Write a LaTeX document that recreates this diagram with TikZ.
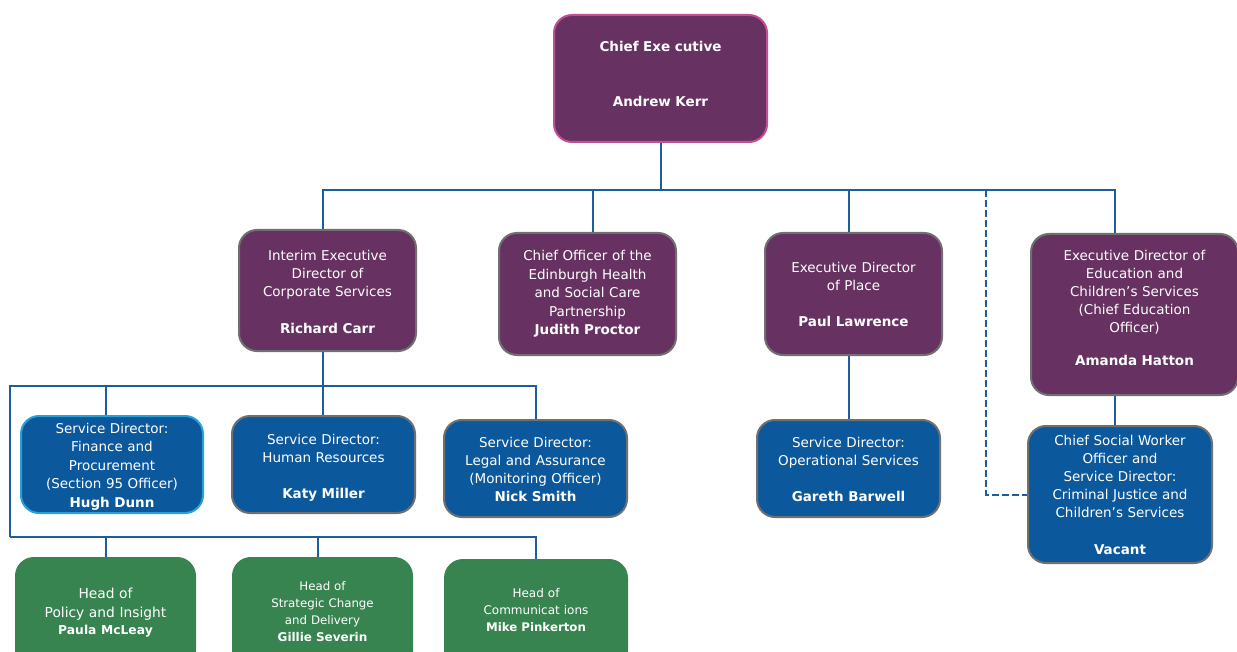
\documentclass[tikz,border=0pt]{standalone}
\usepackage{fontspec}
\setmainfont{DejaVu Sans}
\usepackage{tikz}
\usetikzlibrary{calc}

\definecolor{cecpurple}{RGB}{103,50,98}
\definecolor{cecblue}{RGB}{12,88,156}
\definecolor{cecgreen}{RGB}{56,132,80}
\definecolor{cecline}{RGB}{30,92,160}
\definecolor{cecgrey}{RGB}{112,112,112}
\definecolor{cecpink}{RGB}{196,78,146}
\definecolor{ceccyan}{RGB}{40,160,218}

\tikzset{
	card/.style args={#1/#2}{draw=cecgrey, line width=2pt, rounded corners=18pt, text=white,
		inner sep=0pt, minimum width=#1, minimum height=#2, text width=#1-8pt, align=center,
		font=\fontsize{13.5}{18}\selectfont},
	lift/.style={execute at end node={\par\kern#1}},
	director/.style={card=#1, fill=cecpurple},
	service/.style={card=#1, fill=cecblue},
	head/.style={card=#1, fill=cecgreen, draw=cecgreen},
	link/.style={draw=cecline, line width=2pt}
}

\begin{document}
\begin{tikzpicture}[x=1pt, y=-1pt]
	\useasboundingbox (0,0) rectangle (1237,652);
	\fill[white] (0,0) rectangle (1237,652);
	\clip (0,0) rectangle (1237,652);

	\node[director=213pt/127pt, draw=cecpink, font=\bfseries\fontsize{13.5}{18}\selectfont, lift=10pt] (ce) at (660.5,78.5)
		{Chief Exe cutive\\[37pt]Andrew Kerr};

	\node[director=177pt/121pt, lift=-2pt] (rc) at (327.5,290.5)
		{Interim Executive\\Director of\\Corporate Services\\[19pt]\textbf{Richard Carr}};
	\node[director=177pt/122pt, font=\fontsize{13.5}{18.5}\selectfont] (jp) at (587.5,294)
		{Chief Officer of the\\Edinburgh Health\\and Social Care\\Partnership\\\textbf{Judith Proctor}};
	\node[director=177pt/122pt, lift=-1pt] (pl) at (853.5,294)
		{Executive Director\\of Place\\[18pt]\textbf{Paul Lawrence}};
	\node[director=207pt/161pt, lift=14pt] (ah) at (1134.5,314.5)
		{Executive Director of\\Education and\\Children's Services\\(Chief Education\\Officer)\\[15pt]\textbf{Amanda Hatton}};

	\node[service=182pt/97pt, draw=ceccyan, font=\fontsize{13.5}{18.5}\selectfont, lift=-4pt] (hd) at (112,464.5)
		{Service Director:\\Finance and\\Procurement\\(Section 95 Officer)\\\textbf{Hugh Dunn}};
	\node[service=183pt/97pt, lift=-6pt] (hr) at (323.5,464.5)
		{Service Director:\\Human Resources\\[18pt]\textbf{Katy Miller}};
	\node[service=183pt/97pt, lift=-2pt] (ns) at (535.5,468.5)
		{Service Director:\\Legal and Assurance\\(Monitoring Officer)\\\textbf{Nick Smith}};
	\node[service=183pt/97pt, lift=-2pt] (gb) at (848.5,468.5)
		{Service Director:\\Operational Services\\[18pt]\textbf{Gareth Barwell}};
	\node[service=184pt/137pt, lift=-1pt] (csw) at (1120,494.5)
		{Chief Social Worker\\Officer and\\Service Director:\\Criminal Justice and\\Children's Services\\[19pt]\textbf{Vacant}};

	\node[head=179pt/110pt, font=\fontsize{13.8}{19}\selectfont, lift=1pt] (pm) at (105.5,613)
		{Head of\\Policy and Insight\\[-2pt]{\bfseries\fontsize{12.3}{17}\selectfont Paula McLeay}};
	\node[head=179pt/110pt, font=\fontsize{11.8}{17}\selectfont, lift=2pt] (gs) at (322.5,613)
		{Head of\\Strategic Change\\and Delivery\\{\bfseries\fontsize{12}{17}\selectfont Gillie Severin}};
	\node[head=182pt/108pt, font=\fontsize{12}{17}\selectfont, lift=7pt] (mp) at (536,614)
		{Head of\\Communicat ions\\{\bfseries\fontsize{11.8}{17}\selectfont Mike Pinkerton}};

	\coordinate (rcdrop) at (323,190);
	\coordinate (dashdrop) at (986,190);
	\coordinate (edudrop) at (1115,190);
	\coordinate (rcbus) at (10,386);
	\coordinate (headbus) at (10,537);

	\draw[link] (ce.south) -- (ce.south |- edudrop);
	\draw[link] (rcdrop |- rc.north) -- (rcdrop) -- (edudrop) -- (edudrop |- ah.north);
	\draw[link] ([xshift=5pt]jp.north) -- ([xshift=5pt]jp.north |- edudrop);
	\draw[link] (gb.north |- edudrop) -- (gb.north |- pl.north);
	\draw[link] (gb.north |- pl.south) -- (gb.north);
	\draw[link, dash pattern=on 7pt off 3pt] (dashdrop) |- (csw.west);
	\draw[link] (edudrop |- ah.south) -- (edudrop |- csw.north);

	\draw[link] (rcdrop |- rc.south) -- (rcdrop |- hr.north);
	\draw[link] (headbus) -- (rcbus) -| (ns.north);
	\draw[link] ([xshift=-6pt]hd.north) -- ([xshift=-6pt]hd.north |- rcbus);
	\draw[link] (headbus) -| (mp.north);
	\draw[link] (pm.north) -- (pm.north |- headbus);
	\draw[link] ([xshift=-5pt]gs.north) -- ([xshift=-5pt]gs.north |- headbus);
\end{tikzpicture}
\end{document}
